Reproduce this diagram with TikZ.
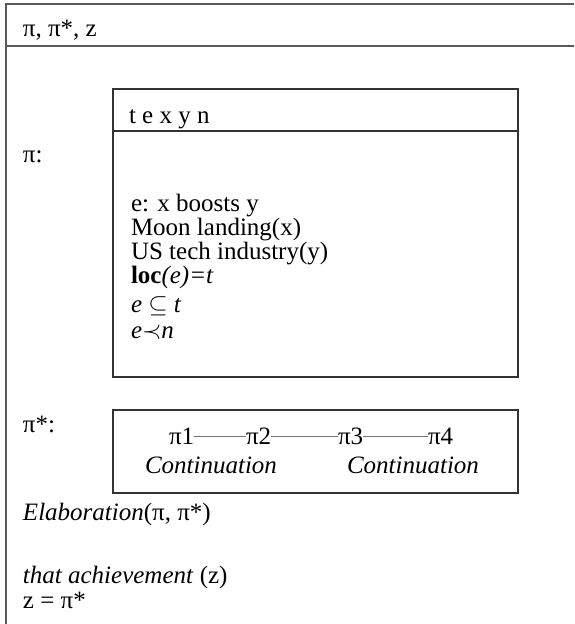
\documentclass[tikz,border=0pt]{standalone}
\usepackage{fontspec}
\setmainfont{Liberation Serif}
\begin{document}
\begin{tikzpicture}[x=1pt,y=-1pt,
  txt/.style={anchor=base west,inner sep=0pt,outer sep=0pt,font=\fontsize{25}{30}\selectfont},
  frame/.style={draw=black!65,line width=1.6pt},
  boxframe/.style={draw=black!80,line width=1.3pt,inner sep=0pt,outer sep=0pt,anchor=north west},
  link/.style={draw=black!55,line width=0.8pt}]
\useasboundingbox (0,0) rectangle (574,624);
% outer frame
\coordinate (tl) at (6,4);
\coordinate (tr) at (574,4);
\coordinate (bl) at (6,624);
\coordinate (sl) at (6,46);
\coordinate (sr) at (574,46);
\draw[frame] (tr) -- (tl) -- (bl);
\draw[frame] (sl) -- (sr);
\node[txt] (hdr) at (23,36) {π, π*, z};
% pi box
\node[txt] (pilab) at (23,162) {π:};
\node[boxframe,minimum width=405pt,minimum height=288pt] (b1) at (113,89) {};
\coordinate (s1l) at (113,131);
\coordinate (s1r) at (518,131);
\draw[draw=black!80,line width=1.3pt] (s1l) -- (s1r);
\node[txt] (vars) at (129,123) {t e x y n};
\node[txt] (c1) at (131,211) {e: x boosts y};
\node[txt] (c2) at (131,235) {Moon landing(x)};
\node[txt] (c3) at (131,259) {US tech industry(y)};
\node[txt] (c4) at (131,283) {{\bfseries loc}\textit{(e)=t}};
\node[txt] (c5) at (131,312) {\textit{e} $\subseteq$ \textit{t}};
\node[txt] (c6) at (131,338) {\textit{e}$\prec$\textit{n}};
% pi* box
\node[txt] (pislab) at (23,432) {π*:};
\node[boxframe,minimum width=405pt,minimum height=83pt] (b2) at (113,410) {};
\node[txt] (p1) at (169,444) {π1};
\node[txt] (p2) at (246,444) {π2};
\node[txt] (p3) at (338,444) {π3};
\node[txt] (p4) at (428,444) {π4};
\draw[link] ([yshift=8pt]p1.base east) -- ([yshift=8pt]p2.base west);
\draw[link] ([yshift=8pt]p2.base east) -- ([yshift=8pt]p3.base west);
\draw[link] ([yshift=8pt]p3.base east) -- ([yshift=8pt]p4.base west);
\node[txt] (cont1) at (145,473) {\textit{Continuation}};
\node[txt] (cont2) at (347,473) {\textit{Continuation}};
% bottom
\node[txt] (elab) at (23,520) {\textit{Elaboration}(π, π*)};
\node[txt] (ach) at (23,583) {\textit{that achievement} (z)};
\node[txt] (zeq) at (23,608) {z = π*};
\end{tikzpicture}
\end{document}
